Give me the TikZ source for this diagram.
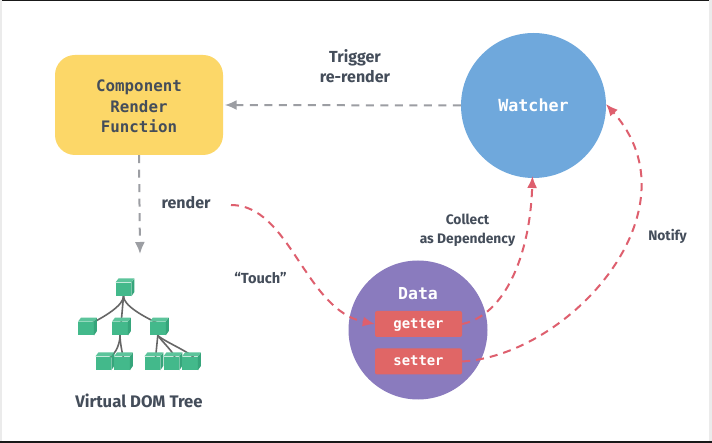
\documentclass[tikz,border=0pt]{standalone}
\usepackage{fontspec}
\setmainfont{Fira Sans}
\setmonofont{DejaVu Sans Mono}
\usetikzlibrary{arrows.meta,backgrounds}
\definecolor{ink}{HTML}{444D5A}
\definecolor{yel}{HTML}{FCD768}
\definecolor{blu}{HTML}{6FA8DC}
\definecolor{pur}{HTML}{8A7BBE}
\definecolor{redd}{HTML}{E06666}
\definecolor{grn}{HTML}{43B98B}
\definecolor{grnt}{HTML}{5CC49B}
\definecolor{grns}{HTML}{36A57B}
\definecolor{wire}{HTML}{666666}
\definecolor{arrg}{HTML}{9C9EA3}
\definecolor{arrr}{HTML}{DE5F6E}
\tikzset{
  lab/.style={font=\bfseries\fontsize{16}{20}\selectfont, text=ink, align=center, inner sep=0pt},
  labs/.style={font=\bfseries\fontsize{13.8}{19}\selectfont, text=ink, align=center, inner sep=0pt},
  mono/.style={font=\ttfamily\bfseries\fontsize{15.8}{20.7}\selectfont, align=center, inner sep=0pt},
  monos/.style={font=\ttfamily\bfseries\fontsize{13.9}{16}\selectfont, text=white, inner sep=0pt},
  tag/.style={fill=redd, rounded corners=2pt, minimum width=87pt, minimum height=26pt, monos, text height=10pt, text depth=1pt},
  ga/.style={draw=arrg, line width=2pt, dash pattern=on 8pt off 6.5pt, -{Latex[length=12pt,width=10pt]}},
  ra/.style={draw=arrr, line width=2pt, dash pattern=on 8pt off 6pt, -{Latex[length=12pt,width=10pt]}},
  wr/.style={draw=wire, line width=1.6pt, line cap=round},
  cubef/.style={fill=grn, minimum width=15.5pt, minimum height=13.5pt, inner sep=0pt}
}
\newcommand{\cubenode}[3]{%
  \node[cubef] (#1) at (#2,#3) {};
  \fill[grnt] (#1.north west) -- ++(3,-4) -- ++(15.5,0) -- (#1.north east) -- cycle;
  \fill[grns] (#1.north east) -- ++(3,-4) -- ++(0,13.5) -- (#1.south east) -- cycle;
}
\begin{document}
\begin{tikzpicture}[x=1pt,y=-1pt]
\useasboundingbox (0,0) rectangle (712,443);
\begin{pgfonlayer}{background}
\fill[white] (0,0) rectangle (712,443);
\fill[black!90] (0,0) rectangle (712,1);
\fill[black!90] (0,441) rectangle (712,443);
\fill[black!8] (0,0) rectangle (2,441);
\fill[black!8] (709,0) rectangle (712,441);
\end{pgfonlayer}

\node[fill=yel, rounded corners=20pt, minimum width=168pt, minimum height=100pt, inner sep=0pt] (crf) at (139,105) {};
\node[mono, text=ink] (crft) at (139,106.5) {Component\\Render\\Function};
\node[circle, fill=blu, minimum size=145pt, inner sep=0pt, font=\ttfamily\bfseries\fontsize{16.7}{18}\selectfont, text=white] (watcher) at (533.5,105.5) {Watcher};
\node[circle, fill=pur, minimum size=139pt, inner sep=0pt] (data) at (418,330) {};
\node[monos, font=\ttfamily\bfseries\fontsize{16.5}{18}\selectfont] (datal) at (418,294) {Data};
\node[tag] (getter) at (418.5,324) {getter};
\node[tag] (setter) at (418.5,361.5) {setter};

\node[lab] (trig) at (355,66) {Trigger\\re-render};
\node[lab, anchor=west] (rend) at (161.5,202.7) {render};
\node[labs, font=\bfseries\fontsize{14.6}{18}\selectfont] (touch) at (260.5,278) {“Touch”};
\node[labs] (coll) at (467.5,230.5) {Collect\\as Dependency};
\node[labs] (noti) at (667.5,236) {Notify};
\node[lab, font=\bfseries\fontsize{16.7}{20}\selectfont] (vdom) at (139,400.5) {Virtual DOM Tree};

\cubenode{r}{123.5}{289.3}
\cubenode{a}{86}{328.5}
\cubenode{b}{120}{328.5}
\cubenode{c}{157.8}{328.5}
\cubenode{d}{103.4}{363.3}
\cubenode{e}{122}{363.3}
\cubenode{f}{152.4}{363.3}
\cubenode{g}{171.4}{363.3}
\cubenode{h}{190}{363.3}

\begin{pgfonlayer}{background}
\draw[wr] (r.south) .. controls +(0,9) and +(16,-8) .. ([xshift=3pt,yshift=-3pt]a.north);
\draw[wr] (r.south) -- ([xshift=1pt,yshift=-3pt]b.north);
\draw[wr] (r.south) .. controls +(0,9) and +(-18,-8) .. ([xshift=3pt,yshift=-3pt]c.north);
\draw[wr] (b.south) .. controls +(0,6) and +(10,-6) .. ([xshift=4pt,yshift=-3pt]d.north);
\draw[wr] (b.south) .. controls +(0,6) and +(-2,-6) .. ([xshift=2pt,yshift=-3pt]e.north);
\draw[wr] (c.south) -- ([xshift=3pt,yshift=-3pt]f.north);
\draw[wr] (c.south) .. controls +(4,6) and +(-1,-7) .. ([xshift=4pt,yshift=-3pt]g.north);
\draw[wr] (c.south) .. controls +(6,6) and +(-2,-6) .. ([xshift=5pt,yshift=-3pt]h.north);
\end{pgfonlayer}

\coordinate (s1) at (231,205);
\coordinate (w1) at (606,104);
\coordinate (w2) at (532.5,176);
\coordinate (t1) at (140,254);
\draw[ga] (watcher.west) -- ([xshift=1.5pt]crf.east);
\draw[ga] (crf.south) -- (t1);
\draw[ra] (s1) .. controls (290,205) and (305,310) .. (getter.west);
\draw[ra] (getter.east) .. controls (505,315) and (530,255) .. (w2);
\draw[ra] (setter.east) .. controls (570,355) and (700,210) .. (w1);
\end{tikzpicture}
\end{document}
